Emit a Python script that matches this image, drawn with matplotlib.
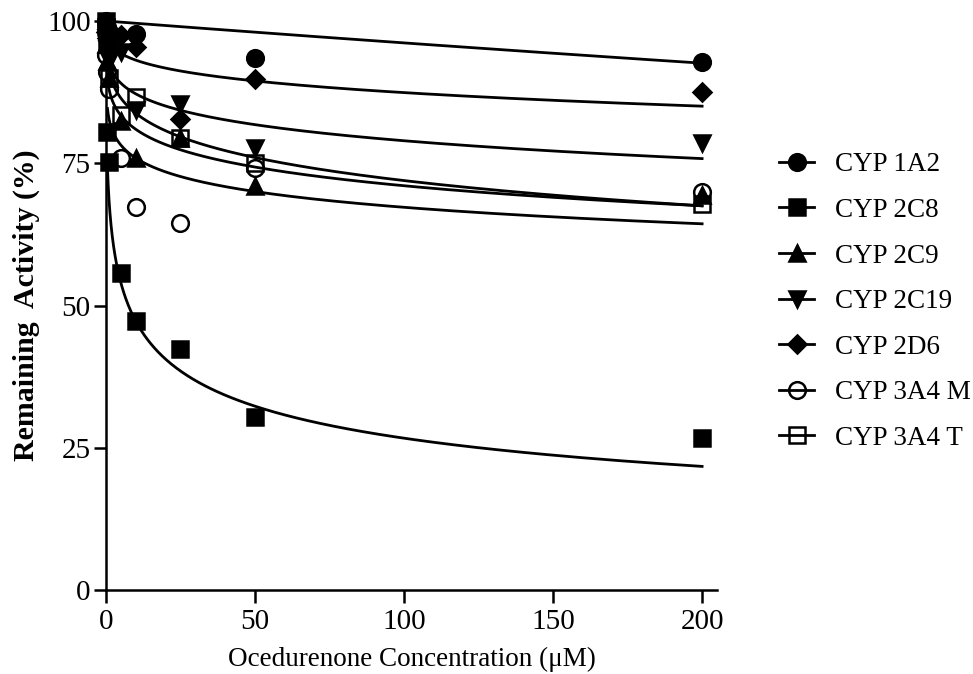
import numpy as np
import matplotlib
matplotlib.use('Agg')
import matplotlib.pyplot as plt
from matplotlib.lines import Line2D

plt.rcParams['font.family'] = ['Liberation Serif', 'DejaVu Serif']

# concentrations (uM)
conc = [0, 0.5, 1, 5, 10, 25, 50, 200]

labels = ['CYP 1A2', 'CYP 2C8', 'CYP 2C9', 'CYP 2C19', 'CYP 2D6', 'CYP 3A4 M', 'CYP 3A4 T']

# remaining activity (%), nan = no point visible
act_1a2 = [100, 99, 98, np.nan, 97.7, np.nan, 93.5, 92.8]
act_2c8 = [100, 80.5, 75.3, 55.8, 47.2, 42.4, 30.4, 26.8]
act_2c9 = [96, 93, 90, 82.5, 76, 79.5, 71, 69.5]
act_2c19 = [97, 95, 93, 94.5, 84.4, 85.4, 77.7, 78.5]
act_2d6 = [98, 97, 96, 97.5, 95.5, 82.8, 89.8, 87.6]
act_3a4m = [94, 91, 88, 76, 67.3, 64.5, 74.2, 70]
act_3a4t = [99, 96, 90, 83.5, 86.6, 79.5, 75, 67.8]

# fitted curves: Y = 100 / (1 + (X/IC50)^Hill)
ic50 = [2500, 7.54, 4800, 16500, 80000, 4280, 2220]
hill = [1.0, 0.391, 0.186, 0.259, 0.29, 0.239, 0.304]

series = [act_1a2, act_2c8, act_2c9, act_2c19, act_2d6, act_3a4m, act_3a4t]
markers = ['o', 's', '^', 'v', 'D', 'o', 's']
sizes = [12, 12, 12, 12, 9, 12, 12]
filled = [True, True, True, True, True, False, False]

fig = plt.figure(figsize=(9.73, 6.74), dpi=100)
ax = fig.add_axes([0.1089, 0.1246, 0.628, 0.8442])

x_fit = np.geomspace(0.5, max(conc), 400)
handles = []
for i, values in enumerate(series):
    y_fit = 100 / (1 + (x_fit / ic50[i]) ** hill[i])
    ax.plot(x_fit, y_fit, color='black', lw=2, clip_on=False)
    face = 'black' if filled[i] else 'none'
    ax.plot(conc, values, linestyle='none', marker=markers[i], ms=sizes[i],
            markerfacecolor=face, markeredgecolor='black', markeredgewidth=1.8,
            clip_on=False)
    handles.append(Line2D([], [], color='black', lw=2, marker=markers[i],
                          ms=sizes[i], markerfacecolor=face,
                          markeredgecolor='black', markeredgewidth=1.8))

ax.set_xlim(0, 205)
ax.set_ylim(0, 100)
ax.set_xticks([0, 50, 100, 150, 200])
ax.set_yticks([0, 25, 50, 75, 100])
for side in ['top', 'right']:
    ax.spines[side].set_visible(False)
for side in ['left', 'bottom']:
    ax.spines[side].set_linewidth(1.8)
ax.tick_params(direction='out', length=9, width=1.8, labelsize=21, pad=2)
ax.tick_params(axis='x', pad=5)

ax.set_xlabel('Ocedurenone Concentration (\u03bcM)', fontsize=19.5, labelpad=8)
ax.set_ylabel('Remaining  Activity (%)', fontsize=21.5, fontweight='bold', labelpad=5)

fig.legend(handles, labels, loc='upper left', bbox_to_anchor=(0.787, 0.794),
           frameon=False, fontsize=19.5, handlelength=1.28, handletextpad=0.77,
           labelspacing=0.76, borderpad=0)

fig.savefig('out.png', dpi=100)
